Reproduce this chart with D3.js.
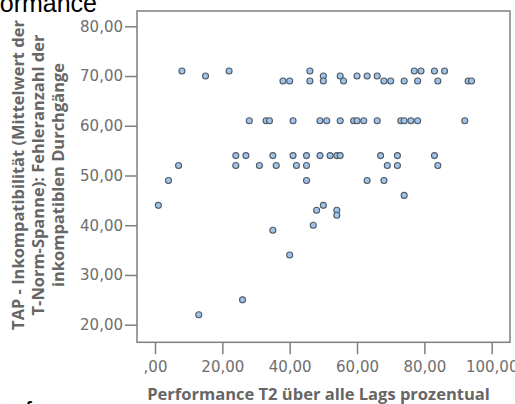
<!DOCTYPE html>
<html>
<head>
<meta charset="utf-8">
<script src="https://cdn.jsdelivr.net/npm/d3@7"></script>
<style>
  html, body { margin: 0; padding: 0; background: #fff; overflow: hidden; }
  svg { display: block; }
</style>
</head>
<body>
<svg id="chart" width="515" height="404"></svg>
<script>
// Performance T2 (% over all lags) vs. TAP incompatibility error count
const performanceT2 = [
  8, 22, 46, 77, 79, 83, 86,
  15, 50, 55, 60, 63, 66,
  38, 40, 46, 50, 56, 68, 70, 74, 78, 84, 93, 94,
  28, 33, 34, 41, 49, 51, 55, 59, 60, 62, 66, 73, 74, 76, 78, 92,
  24, 27, 35, 41, 45, 49, 52, 54, 55, 67, 72, 83,
  7, 24, 31, 36, 42, 45, 69, 72, 84,
  4, 45, 63, 68,
  74, 1, 50, 48, 54, 54, 47, 35, 40, 26, 13
];
const tapErrors = [
  71, 71, 71, 71, 71, 71, 71,
  70, 70, 70, 70, 70, 70,
  69, 69, 69, 69, 69, 69, 69, 69, 69, 69, 69, 69,
  61, 61, 61, 61, 61, 61, 61, 61, 61, 61, 61, 61, 61, 61, 61, 61,
  54, 54, 54, 54, 54, 54, 54, 54, 54, 54, 54, 54,
  52, 52, 52, 52, 52, 52, 52, 52, 52,
  49, 49, 49, 49,
  46, 44, 44, 43, 43, 42, 40, 39, 34, 25, 22
];

const xTicks = [0, 20, 40, 60, 80, 100];
const xTickLabels = [",00", "20,00", "40,00", "60,00", "80,00", "100,00"];
const yTicks = [20, 30, 40, 50, 60, 70, 80];
const yTickLabels = ["20,00", "30,00", "40,00", "50,00", "60,00", "70,00", "80,00"];

const xTitle = "Performance T2 über alle Lags prozentual";
const yTitleLines = [
  "TAP - Inkompatibilität (Mittelwert der",
  "T-Norm-Spanne): Fehleranzahl der",
  "inkompatiblen Durchgänge"
];

const svg = d3.select("#chart");
const frame = { left: 137, right: 510, top: 11, bottom: 342.3 };

const x = d3.scaleLinear().domain([0, 100]).range([155, 491.7]);
const y = d3.scaleLinear().domain([20, 80]).range([324.7, 26.3]);

const axisColor = "#7f7f7f";
const tickTextColor = "#6e6e6e";
const titleColor = "#666666";

// size a title so its text spans the given width
function fitFont(sel, width) {
  const base = 14;
  sel.style("font-size", base + "px");
  const len = sel.node().getComputedTextLength();
  const size = base * width / len;
  sel.style("font-size", size + "px");
  return size;
}

// page heading fragments
svg.append("text")
  .attr("x", 97).attr("y", 11.5)
  .attr("text-anchor", "end")
  .style("font-family", "'Liberation Sans', Arial, sans-serif")
  .style("font-size", "25px")
  .attr("fill", "#000")
  .text("Performance");

svg.append("text")
  .attr("x", -14).attr("y", 419.5)
  .style("font-family", "'Liberation Sans', Arial, sans-serif")
  .style("font-size", "25px")
  .attr("fill", "#000")
  .text("Performance");

// plot frame
svg.append("rect")
  .attr("x", frame.left).attr("y", frame.top)
  .attr("width", frame.right - frame.left)
  .attr("height", frame.bottom - frame.top)
  .attr("fill", "none")
  .attr("stroke", axisColor)
  .attr("stroke-width", 1.5);

// axes
const yAxis = d3.axisLeft(y)
  .tickValues(yTicks)
  .tickSize(12)
  .tickPadding(2)
  .tickFormat((d, i) => yTickLabels[i]);

const xAxis = d3.axisBottom(x)
  .tickValues(xTicks)
  .tickSize(12)
  .tickPadding(7)
  .tickFormat((d, i) => xTickLabels[i]);

const gy = svg.append("g").attr("transform", `translate(${frame.left},0)`).call(yAxis);
const gx = svg.append("g").attr("transform", `translate(0,${frame.bottom})`).call(xAxis);

[gx, gy].forEach(g => {
  g.select(".domain").remove();
  g.selectAll(".tick line").attr("stroke", axisColor).attr("stroke-width", 1.5);
  g.selectAll(".tick text")
    .attr("fill", tickTextColor)
    .style("font-family", "'DejaVu Sans', Verdana, sans-serif")
    .style("font-size", "15px");
});

// axis titles
const xt = svg.append("text")
  .attr("x", 318.5).attr("y", 400)
  .attr("text-anchor", "middle")
  .attr("fill", titleColor)
  .style("font-family", "'Open Sans', sans-serif")
  .style("font-weight", "bold")
  .text(xTitle);
fitFont(xt, 343);

const yTitle = svg.append("g");
const yTexts = yTitleLines.map((line, i) =>
  yTitle.append("text")
    .attr("transform", `translate(${23.5 + i * 20},175) rotate(-90)`)
    .attr("text-anchor", "middle")
    .attr("fill", titleColor)
    .style("font-family", "'Open Sans', sans-serif")
    .style("font-weight", "bold")
    .text(line)
);
const ySize = fitFont(yTexts[0], 310);
yTexts.forEach(t => t.style("font-size", ySize + "px"));

// points
svg.append("g")
  .selectAll("circle")
  .data(d3.range(performanceT2.length))
  .join("circle")
  .attr("cx", i => x(performanceT2[i]))
  .attr("cy", i => y(tapErrors[i]))
  .attr("r", 3)
  .attr("fill", "#9fc6ea")
  .attr("stroke", "#4f5964")
  .attr("stroke-width", 1.1);
</script>
</body>
</html>
